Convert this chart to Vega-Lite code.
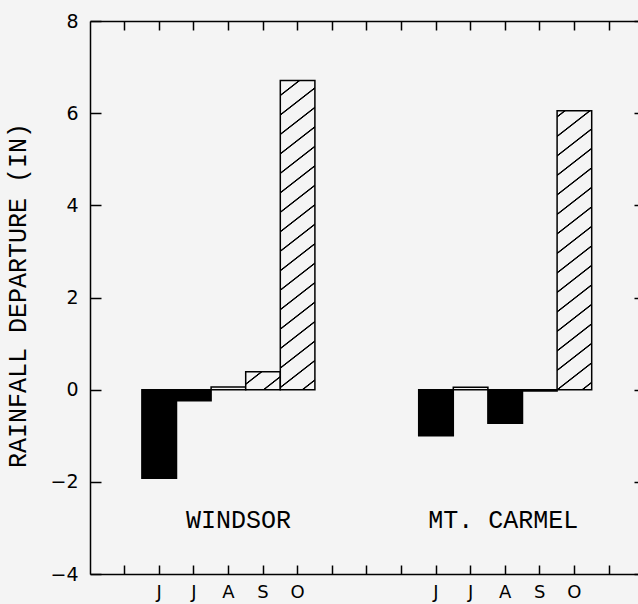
{
  "$schema": "https://vega.github.io/schema/vega-lite/v6.json",
  "autosize": {"type": "none"},
  "width": 548,
  "height": 553,
  "padding": {"left": 90, "top": 21, "right": 0, "bottom": 30},
  "background": "#f4f4f4",
  "config": {
    "view": {"stroke": null},
    "axis": {
      "grid": false,
      "domainColor": "black",
      "domainWidth": 1.5,
      "tickColor": "black",
      "tickWidth": 1.5,
      "labelColor": "black",
      "labelFont": "DejaVu Sans",
      "labelFontSize": 19,
      "titleColor": "black"
    }
  },
  "resolve": {"axis": {"x": "independent", "y": "independent"}},
  "layer": [
    {
      "data": {
        "values": [
          {"station": "WINDSOR", "month": "Jun", "bar": "WINDSOR Jun", "departure": -1.92},
          {"station": "WINDSOR", "month": "Jul", "bar": "WINDSOR Jul", "departure": -0.24},
          {"station": "WINDSOR", "month": "Aug", "bar": "WINDSOR Aug", "departure": 0.06},
          {"station": "WINDSOR", "month": "Sep", "bar": "WINDSOR Sep", "departure": 0.39},
          {"station": "WINDSOR", "month": "Oct", "bar": "WINDSOR Oct", "departure": 6.71},
          {"station": "MT. CARMEL", "month": "Jun", "bar": "MT. CARMEL Jun", "departure": -1.0},
          {"station": "MT. CARMEL", "month": "Jul", "bar": "MT. CARMEL Jul", "departure": 0.05},
          {"station": "MT. CARMEL", "month": "Aug", "bar": "MT. CARMEL Aug", "departure": -0.73},
          {"station": "MT. CARMEL", "month": "Sep", "bar": "MT. CARMEL Sep", "departure": -0.03},
          {"station": "MT. CARMEL", "month": "Oct", "bar": "MT. CARMEL Oct", "departure": 6.05}
        ]
      },
      "mark": {"type": "bar", "stroke": "black", "strokeWidth": 1.5},
      "encoding": {
        "x": {
          "field": "bar",
          "type": "nominal",
          "scale": {
            "type": "band",
            "domain": ["_1", "WINDSOR Jun", "WINDSOR Jul", "WINDSOR Aug", "WINDSOR Sep", "WINDSOR Oct", "_7", "_8", "_9", "MT. CARMEL Jun", "MT. CARMEL Jul", "MT. CARMEL Aug", "MT. CARMEL Sep", "MT. CARMEL Oct", "_15"],
            "range": [0, 553.6],
            "paddingInner": 0,
            "paddingOuter": 0.5
          },
          "axis": {
            "orient": "bottom",
            "title": null,
            "tickSize": -9,
            "labelPadding": 18,
            "labelAngle": 0,
            "labelFont": "DejaVu Sans",
            "labelFontSize": 18,
            "labelOverlap": false,
            "labelExpr": "indexof(datum.value, ' ') > 0 ? upper(slice(datum.value, -3, -2)) : ''"
          }
        },
        "y": {
          "field": "departure",
          "type": "quantitative",
          "scale": {"domain": [-4, 8], "nice": false, "zero": false},
          "axis": {
            "orient": "left",
            "values": [-4, -2, 0, 2, 4, 6, 8],
            "tickSize": -11,
            "labelPadding": 23,
            "labelFont": "DejaVu Sans",
            "labelFontSize": 19,
            "title": "RAINFALL DEPARTURE (IN)",
            "titleFont": "Liberation Mono",
            "titleFontSize": 25,
            "titleFontWeight": "normal",
            "titleX": -65,
            "titleY": 274,
            "titleAngle": 270,
            "titleAlign": "center",
            "titleBaseline": "alphabetic"
          }
        },
        "fill": {
          "condition": [
            {"test": "datum.departure < 0", "value": "black"},
            {"test": "datum.bar === 'WINDSOR Oct'", "value": {
              "gradient": "linear", "x1": 0, "y1": 0, "x2": 0.0941, "y2": 1.079,
              "stops": [
                {"offset": 0, "color": "#f4f4f4"},
                {"offset": 0.04069, "color": "#f4f4f4"}, {"offset": 0.04307, "color": "#000"}, {"offset": 0.04604, "color": "#000"}, {"offset": 0.04842, "color": "#f4f4f4"},
                {"offset": 0.09861, "color": "#f4f4f4"}, {"offset": 0.10099, "color": "#000"}, {"offset": 0.10396, "color": "#000"}, {"offset": 0.10634, "color": "#f4f4f4"},
                {"offset": 0.15653, "color": "#f4f4f4"}, {"offset": 0.15891, "color": "#000"}, {"offset": 0.16188, "color": "#000"}, {"offset": 0.16426, "color": "#f4f4f4"},
                {"offset": 0.21445, "color": "#f4f4f4"}, {"offset": 0.21683, "color": "#000"}, {"offset": 0.21980, "color": "#000"}, {"offset": 0.22218, "color": "#f4f4f4"},
                {"offset": 0.27237, "color": "#f4f4f4"}, {"offset": 0.27475, "color": "#000"}, {"offset": 0.27772, "color": "#000"}, {"offset": 0.28010, "color": "#f4f4f4"},
                {"offset": 0.33030, "color": "#f4f4f4"}, {"offset": 0.33268, "color": "#000"}, {"offset": 0.33565, "color": "#000"}, {"offset": 0.33803, "color": "#f4f4f4"},
                {"offset": 0.38822, "color": "#f4f4f4"}, {"offset": 0.39060, "color": "#000"}, {"offset": 0.39357, "color": "#000"}, {"offset": 0.39595, "color": "#f4f4f4"},
                {"offset": 0.44614, "color": "#f4f4f4"}, {"offset": 0.44852, "color": "#000"}, {"offset": 0.45149, "color": "#000"}, {"offset": 0.45387, "color": "#f4f4f4"},
                {"offset": 0.50406, "color": "#f4f4f4"}, {"offset": 0.50644, "color": "#000"}, {"offset": 0.50941, "color": "#000"}, {"offset": 0.51179, "color": "#f4f4f4"},
                {"offset": 0.56198, "color": "#f4f4f4"}, {"offset": 0.56436, "color": "#000"}, {"offset": 0.56733, "color": "#000"}, {"offset": 0.56971, "color": "#f4f4f4"},
                {"offset": 0.61990, "color": "#f4f4f4"}, {"offset": 0.62228, "color": "#000"}, {"offset": 0.62525, "color": "#000"}, {"offset": 0.62763, "color": "#f4f4f4"},
                {"offset": 0.67782, "color": "#f4f4f4"}, {"offset": 0.68020, "color": "#000"}, {"offset": 0.68317, "color": "#000"}, {"offset": 0.68555, "color": "#f4f4f4"},
                {"offset": 0.73574, "color": "#f4f4f4"}, {"offset": 0.73812, "color": "#000"}, {"offset": 0.74109, "color": "#000"}, {"offset": 0.74347, "color": "#f4f4f4"},
                {"offset": 0.79366, "color": "#f4f4f4"}, {"offset": 0.79604, "color": "#000"}, {"offset": 0.79901, "color": "#000"}, {"offset": 0.80139, "color": "#f4f4f4"},
                {"offset": 0.85159, "color": "#f4f4f4"}, {"offset": 0.85396, "color": "#000"}, {"offset": 0.85693, "color": "#000"}, {"offset": 0.85931, "color": "#f4f4f4"},
                {"offset": 0.90951, "color": "#f4f4f4"}, {"offset": 0.91188, "color": "#000"}, {"offset": 0.91486, "color": "#000"}, {"offset": 0.91723, "color": "#f4f4f4"},
                {"offset": 0.96743, "color": "#f4f4f4"}, {"offset": 0.96981, "color": "#000"}, {"offset": 0.97278, "color": "#000"}, {"offset": 0.97516, "color": "#f4f4f4"},
                {"offset": 1, "color": "#f4f4f4"}
              ]
            }},
            {"test": "datum.bar === 'WINDSOR Sep'", "value": {
              "gradient": "linear", "x1": 0, "y1": 0, "x2": 1.1543, "y2": 0.7682,
              "stops": [
                {"offset": 0, "color": "#f4f4f4"},
                {"offset": 0.24905, "color": "#f4f4f4"}, {"offset": 0.26684, "color": "#000"}, {"offset": 0.28908, "color": "#000"}, {"offset": 0.30687, "color": "#f4f4f4"},
                {"offset": 0.68268, "color": "#f4f4f4"}, {"offset": 0.70047, "color": "#000"}, {"offset": 0.72270, "color": "#000"}, {"offset": 0.74049, "color": "#f4f4f4"},
                {"offset": 1, "color": "#f4f4f4"}
              ]
            }},
            {"test": "datum.bar === 'MT. CARMEL Oct'", "value": {
              "gradient": "linear", "x1": 0, "y1": 0, "x2": 0.1052, "y2": 1.0867,
              "stops": [
                {"offset": 0, "color": "#f4f4f4"},
                {"offset": 0.01537, "color": "#f4f4f4"}, {"offset": 0.01799, "color": "#000"}, {"offset": 0.02126, "color": "#000"}, {"offset": 0.02387, "color": "#f4f4f4"},
                {"offset": 0.07914, "color": "#f4f4f4"}, {"offset": 0.08175, "color": "#000"}, {"offset": 0.08502, "color": "#000"}, {"offset": 0.08764, "color": "#f4f4f4"},
                {"offset": 0.14290, "color": "#f4f4f4"}, {"offset": 0.14552, "color": "#000"}, {"offset": 0.14879, "color": "#000"}, {"offset": 0.15141, "color": "#f4f4f4"},
                {"offset": 0.20667, "color": "#f4f4f4"}, {"offset": 0.20929, "color": "#000"}, {"offset": 0.21256, "color": "#000"}, {"offset": 0.21517, "color": "#f4f4f4"},
                {"offset": 0.27044, "color": "#f4f4f4"}, {"offset": 0.27305, "color": "#000"}, {"offset": 0.27632, "color": "#000"}, {"offset": 0.27894, "color": "#f4f4f4"},
                {"offset": 0.33420, "color": "#f4f4f4"}, {"offset": 0.33682, "color": "#000"}, {"offset": 0.34009, "color": "#000"}, {"offset": 0.34271, "color": "#f4f4f4"},
                {"offset": 0.39797, "color": "#f4f4f4"}, {"offset": 0.40059, "color": "#000"}, {"offset": 0.40386, "color": "#000"}, {"offset": 0.40647, "color": "#f4f4f4"},
                {"offset": 0.46174, "color": "#f4f4f4"}, {"offset": 0.46436, "color": "#000"}, {"offset": 0.46763, "color": "#000"}, {"offset": 0.47024, "color": "#f4f4f4"},
                {"offset": 0.52551, "color": "#f4f4f4"}, {"offset": 0.52812, "color": "#000"}, {"offset": 0.53139, "color": "#000"}, {"offset": 0.53401, "color": "#f4f4f4"},
                {"offset": 0.58927, "color": "#f4f4f4"}, {"offset": 0.59189, "color": "#000"}, {"offset": 0.59516, "color": "#000"}, {"offset": 0.59778, "color": "#f4f4f4"},
                {"offset": 0.65304, "color": "#f4f4f4"}, {"offset": 0.65566, "color": "#000"}, {"offset": 0.65893, "color": "#000"}, {"offset": 0.66154, "color": "#f4f4f4"},
                {"offset": 0.71681, "color": "#f4f4f4"}, {"offset": 0.71942, "color": "#000"}, {"offset": 0.72269, "color": "#000"}, {"offset": 0.72531, "color": "#f4f4f4"},
                {"offset": 0.78057, "color": "#f4f4f4"}, {"offset": 0.78319, "color": "#000"}, {"offset": 0.78646, "color": "#000"}, {"offset": 0.78908, "color": "#f4f4f4"},
                {"offset": 0.84434, "color": "#f4f4f4"}, {"offset": 0.84696, "color": "#000"}, {"offset": 0.85023, "color": "#000"}, {"offset": 0.85284, "color": "#f4f4f4"},
                {"offset": 0.90811, "color": "#f4f4f4"}, {"offset": 0.91072, "color": "#000"}, {"offset": 0.91399, "color": "#000"}, {"offset": 0.91661, "color": "#f4f4f4"},
                {"offset": 0.97187, "color": "#f4f4f4"}, {"offset": 0.97449, "color": "#000"}, {"offset": 0.97776, "color": "#000"}, {"offset": 0.98038, "color": "#f4f4f4"},
                {"offset": 1, "color": "#f4f4f4"}
              ]
            }}
          ],
          "value": "#f4f4f4"
        }
      }
    },
    {
      "data": {"values": [{}]},
      "mark": {"type": "text", "font": "Liberation Mono", "fontSize": 25, "baseline": "alphabetic", "align": "center", "dx": 10, "color": "black"},
      "encoding": {
        "x": {
          "datum": "WINDSOR Aug",
          "type": "nominal",
          "scale": {
            "type": "band",
            "domain": ["_1", "WINDSOR Jun", "WINDSOR Jul", "WINDSOR Aug", "WINDSOR Sep", "WINDSOR Oct", "_7", "_8", "_9", "MT. CARMEL Jun", "MT. CARMEL Jul", "MT. CARMEL Aug", "MT. CARMEL Sep", "MT. CARMEL Oct", "_15"],
            "range": [0, 553.6],
            "paddingInner": 0,
            "paddingOuter": 0.5
          },
          "axis": {"orient": "top", "title": null, "labels": false, "domain": true, "tickSize": -9}
        },
        "y": {
          "datum": -3,
          "type": "quantitative",
          "scale": {"domain": [-4, 8], "nice": false, "zero": false},
          "axis": {"orient": "right", "title": null, "labels": false, "domain": false, "tickSize": -11, "offset": 7, "values": [-4, -2, 0, 2, 4, 6, 8]}
        },
        "text": {"value": "WINDSOR"}
      }
    },
    {
      "data": {"values": [{}]},
      "mark": {"type": "text", "font": "Liberation Mono", "fontSize": 25, "baseline": "alphabetic", "align": "center", "dx": -2, "color": "black"},
      "encoding": {
        "x": {
          "datum": "MT. CARMEL Aug",
          "type": "nominal",
          "scale": {
            "type": "band",
            "domain": ["_1", "WINDSOR Jun", "WINDSOR Jul", "WINDSOR Aug", "WINDSOR Sep", "WINDSOR Oct", "_7", "_8", "_9", "MT. CARMEL Jun", "MT. CARMEL Jul", "MT. CARMEL Aug", "MT. CARMEL Sep", "MT. CARMEL Oct", "_15"],
            "range": [0, 553.6],
            "paddingInner": 0,
            "paddingOuter": 0.5
          },
          "axis": null
        },
        "y": {
          "datum": -3,
          "type": "quantitative",
          "scale": {"domain": [-4, 8], "nice": false, "zero": false},
          "axis": null
        },
        "text": {"value": "MT. CARMEL"}
      }
    }
  ]
}
